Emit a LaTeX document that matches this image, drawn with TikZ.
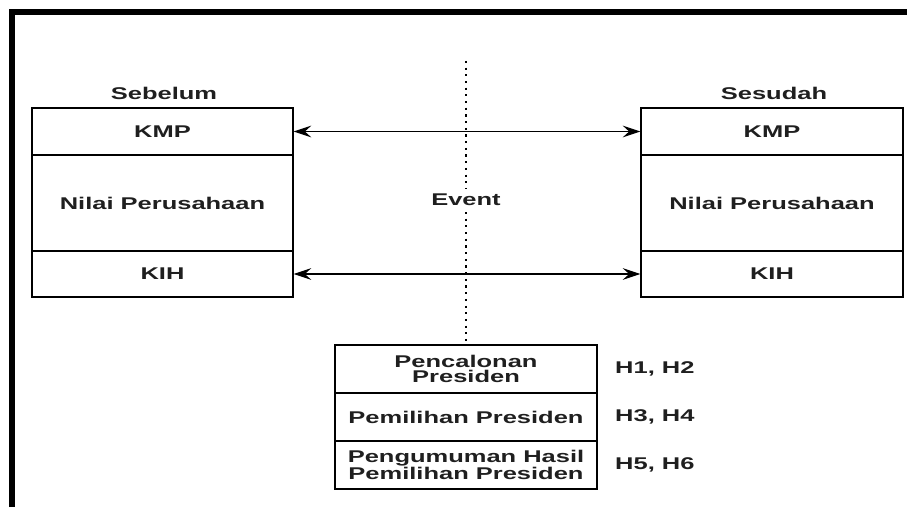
\documentclass[tikz,border=0pt]{standalone}
\usepackage{fontspec}
\newfontfamily\diafont[FakeStretch=1.5]{Liberation Sans}
\usetikzlibrary{arrows.meta,positioning}

\begin{document}
\begin{tikzpicture}[x=0.03cm,y=-0.03cm,
  txt/.style={font=\diafont\fontsize{14.5}{13.5}\selectfont\bfseries, text=black!88, align=center},
  cell/.style={txt, draw, line width=1.2pt, inner sep=0pt},
  dblarrow/.style={{Stealth[length=15pt,width=10pt,inset=5.5pt]}-{Stealth[length=15pt,width=10pt,inset=5.5pt]}, line width=1.1pt},
  dotline/.style={line width=1.8pt, dash pattern=on 1.8pt off 3.9pt}]
\useasboundingbox (0,0) rectangle (907,507);
\draw[line width=4.6pt] (12,507) -- (12,12) -- (907,12);

\node[txt] (sebelum) at (164,93) {Sebelum};
\node[cell, minimum width=7.83cm, minimum height=1.41cm] (kmpL) at (162.5,131.5) {KMP};
\node[cell, minimum width=7.83cm, minimum height=2.88cm] (nilaiL) at (162.5,203) {Nilai Perusahaan};
\node[cell, minimum width=7.83cm, minimum height=1.38cm] (kihL) at (162.5,274) {KIH};

\node[txt] (sesudah) at (774,93) {Sesudah};
\node[cell, minimum width=7.86cm, minimum height=1.41cm] (kmpR) at (772,131.5) {KMP};
\node[cell, minimum width=7.86cm, minimum height=2.88cm] (nilaiR) at (772,203) {Nilai Perusahaan};
\node[cell, minimum width=7.86cm, minimum height=1.38cm] (kihR) at (772,274) {KIH};

\draw[dblarrow] (kmpL.east) -- (kmpR.west);
\draw[dblarrow] (kihL.east) -- (kihR.west);

\node[txt, inner sep=5pt] (event) at (466,200) {Event};
\node[cell, minimum width=7.86cm, minimum height=1.44cm] (pc) at (466,369) {Pencalonan\\Presiden};
\node[cell, minimum width=7.86cm, minimum height=1.44cm] (pp) at (466,417) {Pemilihan Presiden};
\node[cell, minimum width=7.86cm, minimum height=1.44cm] (ph) at (466,465) {Pengumuman Hasil\\Pemilihan Presiden};

\coordinate (dtop) at (466,61);
\draw[dotline] (dtop) -- (event);
\draw[dotline] (event) -- (pc.north);

\node[txt, right=0.4cm of pc] (h12) {H1, H2};
\node[txt, right=0.4cm of pp] (h34) {H3, H4};
\node[txt, right=0.4cm of ph] (h56) {H5, H6};
\end{tikzpicture}
\end{document}
